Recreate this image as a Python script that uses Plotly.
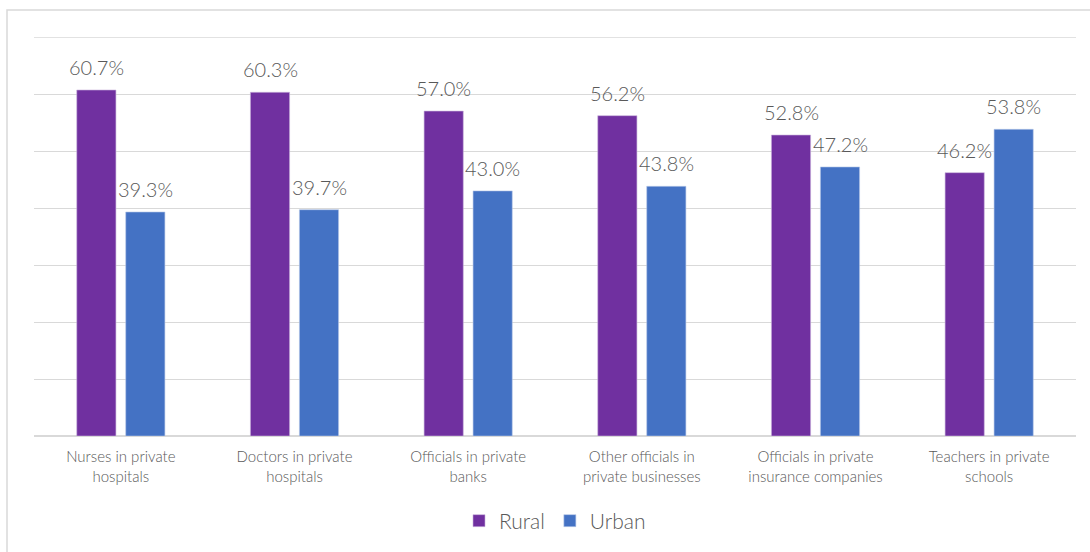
import plotly.graph_objects as go

categories = [
    "Nurses in private<br>hospitals",
    "Doctors in private<br>hospitals",
    "Officials in private<br>banks",
    "Other officials in<br>private businesses",
    "Officials in private<br>insurance companies",
    "Teachers in private<br>schools",
]
rural = [60.7, 60.3, 57.0, 56.2, 52.8, 46.2]
urban = [39.3, 39.7, 43.0, 43.8, 47.2, 53.8]

FONT = "Lato"
TEXT = "#595959"
GRID = "#d9d9d9"
LABEL_FONT = dict(family=FONT, size=20, color=TEXT, weight=300)

fig = go.Figure()
fig.add_trace(go.Bar(
    name="Rural", x=categories, y=rural,
    marker=dict(color="#7030A0", line=dict(color="#c9b3dc", width=0.6)),
))
fig.add_trace(go.Bar(
    name="Urban", x=categories, y=urban,
    marker=dict(color="#4472C4", line=dict(color="#b7c8e8", width=0.6)),
))

# value labels sit a little above each bar, centred on it
annotations = []
for values, shift in ((rural, -24.5), (urban, 24.5)):
    for cat, v in zip(categories, values):
        annotations.append(dict(
            x=cat, y=v, xref="x", yref="y", text=f"{v:.1f}%",
            showarrow=False, xanchor="center", yanchor="bottom",
            xshift=shift, yshift=9, font=LABEL_FONT,
        ))

fig.update_layout(
    width=1090, height=552,
    margin=dict(l=34, r=14, t=37, b=115),
    paper_bgcolor="white", plot_bgcolor="white",
    barmode="group", bargap=0.436, bargroupgap=0.2,
    font=dict(family=FONT, color=TEXT),
    showlegend=True,
    legend=dict(
        orientation="h", x=0.5, xanchor="center", y=-0.21, yanchor="middle",
        font=dict(family=FONT, size=21, color=TEXT, weight=300), itemwidth=30,
        traceorder="normal",
    ),
    xaxis=dict(
        showgrid=False, showline=False, zeroline=False,
        tickfont=dict(family=FONT, size=15, color=TEXT, weight=300), ticks="",
        ticklabelstandoff=10,
    ),
    yaxis=dict(
        range=[0, 70], dtick=10, showticklabels=False,
        showgrid=True, gridcolor=GRID, gridwidth=1,
        zeroline=True, zerolinecolor=GRID, zerolinewidth=1.5, showline=False,
    ),
    annotations=annotations,
    shapes=[
        # top gridline at the upper end of the value axis
        dict(type="line", xref="paper", yref="y", x0=0, x1=1, y0=70, y1=70,
             line=dict(color=GRID, width=1.5), layer="below"),
        # chart frame
        dict(type="rect", xref="paper", yref="paper",
             x0=(7 - 34) / 1042, x1=1.2, y0=-0.5, y1=(552 - 10 - 115) / 400,
             line=dict(color=GRID, width=1.5), fillcolor="rgba(0,0,0,0)",
             layer="below"),
    ],
)

fig.write_html("out.html")
